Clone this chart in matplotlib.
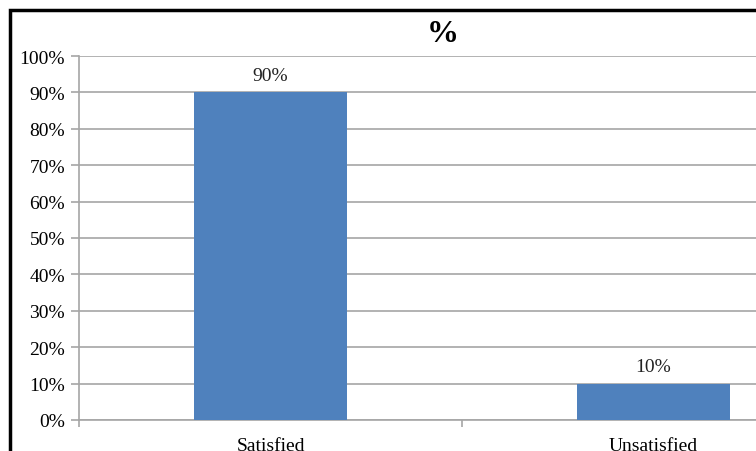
import matplotlib
matplotlib.use("Agg")
import matplotlib.pyplot as plt
from matplotlib.patches import Rectangle
from matplotlib.ticker import FuncFormatter, FixedLocator

categories = ["Satisfied", "Unsatisfied"]
values = [90, 10]
y_ticks = [0, 10, 20, 30, 40, 50, 60, 70, 80, 90, 100]

plt.rcParams['font.family'] = ['Liberation Serif', 'DejaVu Serif']

W, H = 756, 452
fig = plt.figure(figsize=(W / 100, H / 100), dpi=100)

# plot area runs past the right edge of the figure
ax = fig.add_axes([79 / W, (H - 421) / H, 766 / W, 364 / H])
x = range(len(categories))
ax.bar(x, values, width=0.4, color="#4F81BD", zorder=3)
for i, v in zip(x, values):
    ax.text(i, v + 2.3, f"{v}%", ha="center", va="bottom", fontsize=14, color="#222222")

ax.set_xlim(-0.5, len(categories) - 0.5)
ax.set_ylim(0, 100)
ax.set_yticks(y_ticks)
ax.yaxis.set_major_formatter(FuncFormatter(lambda v, p: f"{int(v)}%"))
ax.yaxis.grid(True, color="#A6A6A6", linewidth=1.2, zorder=0)

ax.set_xticks(list(x))
ax.set_xticklabels(categories, fontsize=14)
ax.xaxis.set_minor_locator(FixedLocator([-0.5, 0.5, 1.5]))
ax.tick_params(axis="x", which="major", length=0, pad=12)
ax.tick_params(axis="x", which="minor", length=5, color="#A6A6A6", width=1.2)
ax.tick_params(axis="y", length=6, color="#A6A6A6", width=1.2, labelsize=14, pad=4)

for s in ["top", "right"]:
    ax.spines[s].set_visible(False)
for s in ["left", "bottom"]:
    ax.spines[s].set_color("#A6A6A6")
    ax.spines[s].set_linewidth(1.2)

fig.text(443 / W, 1 - 35 / H, "%", ha="center", va="center", fontsize=23, fontweight="bold")

# black frame around the chart
fig.patches.append(Rectangle((10 / W, -0.2), 1.5, 1 - 11 / H + 0.2, transform=fig.transFigure,
                             fill=False, edgecolor="black", linewidth=2.5))

fig.savefig("out.png", dpi=100)
